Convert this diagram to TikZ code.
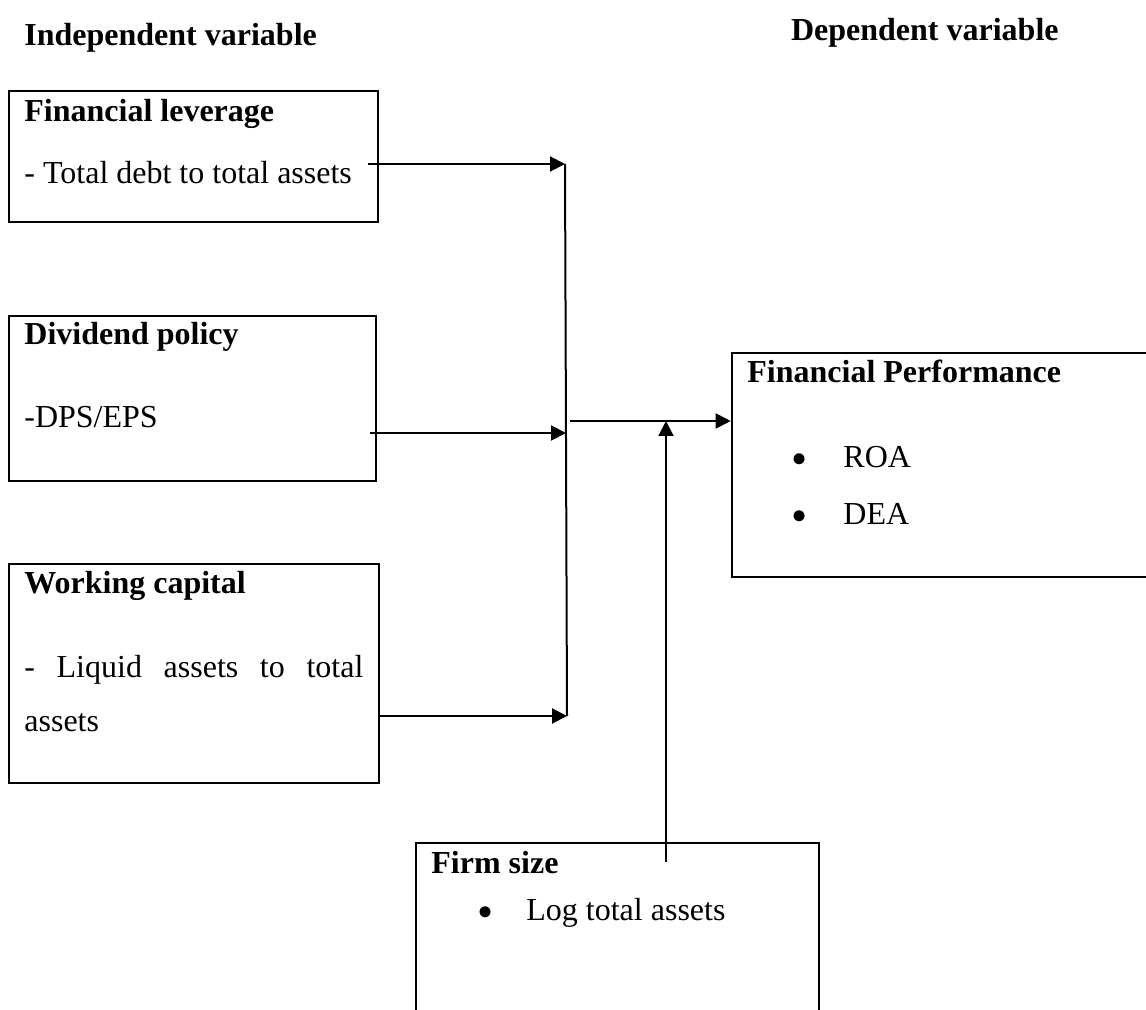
\documentclass[tikz,border=0pt]{standalone}
\usepackage{fontspec}
\setmainfont{Liberation Serif}
\usetikzlibrary{arrows.meta,fit}

\begin{document}
\begin{tikzpicture}[x=0.5pt,y=-0.5pt,
    varbox/.style={draw,line width=1.3pt,inner sep=0pt},
    txt/.style={anchor=base west,inner sep=0pt,font=\fontsize{16}{19}\selectfont},
    heading/.style={txt,font=\fontsize{16}{19}\selectfont\bfseries},
    dot/.style={txt,anchor=base,font=\fontsize{23}{25}\selectfont},
    link/.style={line width=1pt,-{Triangle[length=7.5pt,width=7.5pt]}},
    trunk/.style={line width=1pt}]
    \useasboundingbox (0,0) rectangle (1146,1010);
    %% headings
    \node[heading] (indep) at (24,46) {Independent variable};
    \node[heading,anchor=base east] (dep) at (1059,41) {Dependent variable};
    %% financial leverage
    \node[varbox,fit={(9,91) (378,222)}] (lev) {};
    \node[heading] (levhead) at (24,122) {Financial leverage};
    \node[txt] (levtext) at (24,184) {- Total debt to total assets};
    %% dividend policy
    \node[varbox,fit={(9,316) (376,481)}] (div) {};
    \node[heading] (divhead) at (24,345) {Dividend policy};
    \node[txt] (divtext) at (24,428) {-DPS/EPS};
    %% working capital
    \node[varbox,fit={(9,564) (379,783)}] (wc) {};
    \node[heading] (wchead) at (24,593) {Working capital};
    \node[txt] (wctext) at (24,677) {\makebox[169.5pt][s]{- Liquid assets to total}};
    \node[txt] (wctext2) at (24,731) {assets};
    %% financial performance
    \node[varbox,fit={(732,353) (1153,577)}] (perf) {};
    \node[heading] (perfhead) at (747,383) {Financial Performance};
    \node[dot] (dot1) at (800,474) {\textbullet};
    \node[txt] (roa) at (843,467) {ROA};
    \node[dot] (dot2) at (800,531) {\textbullet};
    \node[txt] (dea) at (843,524) {DEA};
    %% firm size
    \node[varbox,fit={(416,843) (819,1016)}] (size) {};
    \node[heading] (sizehead) at (431,873) {Firm size};
    \node[dot] (dot3) at (486,927) {\textbullet};
    \node[txt] (logta) at (526,920) {Log total assets};
    %% joints
    \coordinate (levout) at (368,164);
    \coordinate (divout) at (370,433);
    \coordinate (wcout) at (379,716);
    \coordinate (jlev) at (565,164);
    \coordinate (jdiv) at (566,433);
    \coordinate (jwc) at (567,716);
    \coordinate (jout) at (570,421);
    \coordinate (sizeout) at (666,862);
    %% connectors
    \draw[link] (levout) -- (jlev);
    \draw[link] (divout) -- (jdiv);
    \draw[link] (wcout) -- (jwc);
    \draw[trunk] (jlev) -- (jwc);
    \draw[link] (jout) -- (jout -| perf.west);
    \draw[link] (sizeout) -- (sizeout |- jout);
\end{tikzpicture}
\end{document}
